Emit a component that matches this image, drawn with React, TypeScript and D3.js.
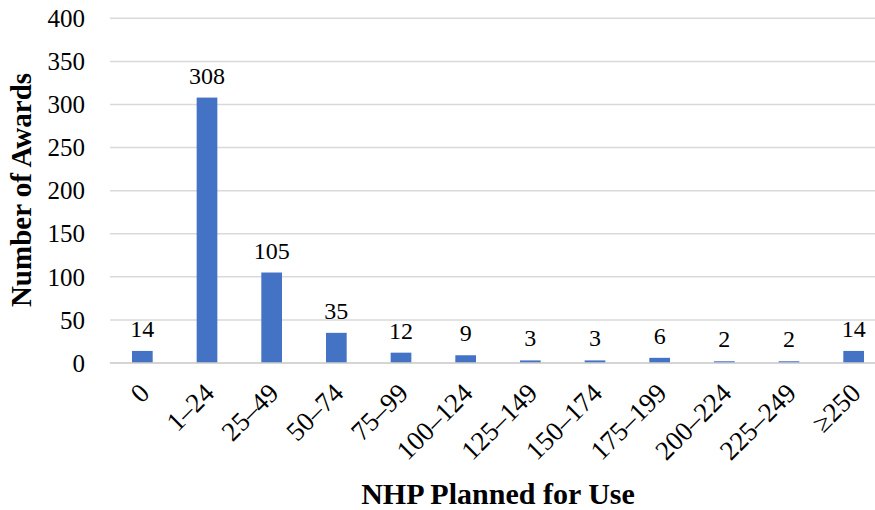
import React, { useEffect, useRef } from 'react';
import * as d3 from 'd3';

const categories = ['0', '1–24', '25–49', '50–74', '75–99', '100–124', '125–149', '150–174', '175–199', '200–224', '225–249', '≥250'];
const awards = [14, 308, 105, 35, 12, 9, 3, 3, 6, 2, 2, 14];
const yTicks = [0, 50, 100, 150, 200, 250, 300, 350, 400];

const width = 875;
const height = 510;
const FONT = '"Liberation Serif", "Times New Roman", serif';

const App: React.FC = () => {
    const svgRef = useRef<SVGSVGElement | null>(null);

    useEffect(() => {
        document.body.style.margin = '0';
        const svg = d3.select(svgRef.current);
        svg.selectAll('*').remove();

        const x = d3.scaleBand<string>()
            .domain(categories)
            .range([110, 886])
            .paddingInner(0.68)
            .paddingOuter(0.34);

        const y = d3.scaleLinear()
            .domain([0, 400])
            .range([363, 18.3]);

        // gridlines
        svg.append('g')
            .selectAll('line')
            .data(yTicks)
            .join('line')
            .attr('x1', 110)
            .attr('x2', width)
            .attr('y1', (d) => y(d))
            .attr('y2', (d) => y(d))
            .attr('stroke', '#d9d9d9')
            .attr('stroke-width', 1.5);

        // y tick labels
        svg.append('g')
            .selectAll('text')
            .data(yTicks)
            .join('text')
            .attr('x', 85)
            .attr('y', (d) => y(d))
            .attr('dy', '0.35em')
            .attr('text-anchor', 'end')
            .style('font-family', FONT)
            .style('font-size', '25px')
            .attr('fill', '#000')
            .text((d) => d);

        // bars
        svg.append('g')
            .selectAll('rect')
            .data(awards)
            .join('rect')
            .attr('x', (_, i) => x(categories[i])!)
            .attr('width', x.bandwidth())
            .attr('y', (d) => y(d))
            .attr('height', (d) => y(0) - y(d))
            .attr('fill', '#4472C4');

        // baseline
        svg.append('line')
            .attr('x1', 110)
            .attr('x2', width)
            .attr('y1', y(0))
            .attr('y2', y(0))
            .attr('stroke', '#d0d0d0')
            .attr('stroke-width', 1.5);

        // value labels
        svg.append('g')
            .selectAll('text')
            .data(awards)
            .join('text')
            .attr('x', (_, i) => x(categories[i])! + x.bandwidth() / 2)
            .attr('y', (d) => y(d) - 14)
            .attr('text-anchor', 'middle')
            .style('font-family', FONT)
            .style('font-size', '24px')
            .attr('fill', '#000')
            .text((d) => d);

        // x tick labels
        svg.append('g')
            .selectAll('text')
            .data(categories)
            .join('text')
            .attr('transform', (d) => `translate(${x(d)! + x.bandwidth() / 2 + 2}, 388) rotate(-45)`)
            .attr('dy', '0.35em')
            .attr('text-anchor', 'end')
            .style('font-family', FONT)
            .style('font-size', '27px')
            .attr('fill', '#000')
            .text((d) => d);

        // axis titles
        svg.append('text')
            .attr('transform', 'translate(31, 190) rotate(-90)')
            .attr('text-anchor', 'middle')
            .style('font-family', FONT)
            .style('font-size', '29px')
            .style('font-weight', 'bold')
            .attr('fill', '#000')
            .text('Number of Awards');

        svg.append('text')
            .attr('x', 498)
            .attr('y', 504)
            .attr('text-anchor', 'middle')
            .style('font-family', FONT)
            .style('font-size', '30px')
            .style('font-weight', 'bold')
            .attr('fill', '#000')
            .text('NHP Planned for Use');
    }, []);

    return <svg ref={svgRef} width={width} height={height} style={{ display: 'block' }}></svg>;
};

export default App;
